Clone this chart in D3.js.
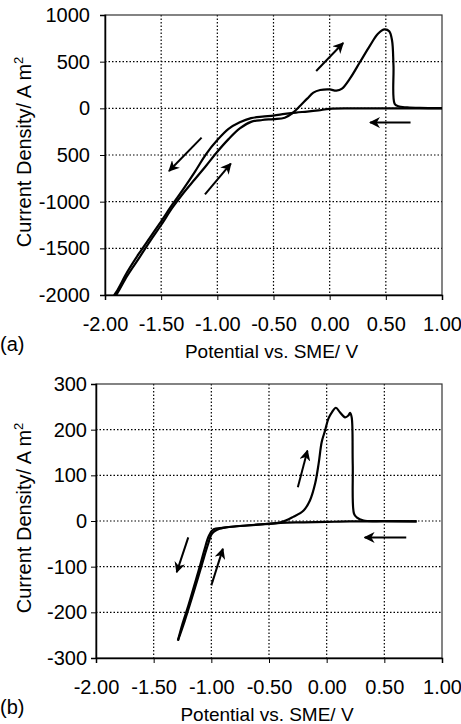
<!DOCTYPE html>
<html>
<head>
<meta charset="utf-8">
<script src="https://cdn.jsdelivr.net/npm/d3@7"></script>
<style>
  body { margin: 0; background: #fff; }
  text { font-family: Arial, "Liberation Sans", sans-serif; fill: #000; }
</style>
</head>
<body>
<div id="container"></div>
<script>
const width = 461, height = 724;

/* DATA - panel (a) */
// cathodic sweep, 1.00 V down to -1.93 V  [potential V, current A m-2]
const aCathodic = [
  [1.00, 0], [0.60, 0], [0.20, -1], [0.00, -5], [-0.10, -22], [-0.20, -35],
  [-0.30, -45], [-0.40, -60], [-0.50, -78], [-0.60, -88], [-0.70, -105],
  [-0.80, -150], [-0.90, -220], [-1.00, -340], [-1.10, -490], [-1.20, -680],
  [-1.30, -860], [-1.40, -1030], [-1.50, -1210], [-1.60, -1385], [-1.70, -1560],
  [-1.80, -1750], [-1.90, -1970], [-1.94, -2040]
];
// anodic return sweep
const aAnodic = [
  [-1.92, -2040], [-1.88, -1960], [-1.80, -1790], [-1.70, -1610], [-1.60, -1425],
  [-1.50, -1250], [-1.40, -1065], [-1.30, -905], [-1.20, -760], [-1.10, -615],
  [-1.00, -465], [-0.90, -330], [-0.80, -215], [-0.70, -145], [-0.60, -125],
  [-0.50, -115], [-0.40, -100], [-0.33, -50], [-0.26, 30], [-0.20, 104],
  [-0.145, 168], [-0.085, 196], [0.00, 203], [0.06, 189], [0.11, 211],
  [0.18, 318], [0.27, 496], [0.36, 675], [0.43, 800], [0.49, 846], [0.53, 825],
  [0.555, 730], [0.568, 460], [0.578, 50], [0.61, 22], [0.69, 10], [0.80, 4], [1.00, 2]
];
// arrows [x1, y1, x2, y2] in data units, head at the second point
const aArrows = [
  [-0.12, 400, 0.12, 700],
  [0.72, -153, 0.36, -153],
  [-1.14, -314, -1.43, -671],
  [-1.11, -921, -0.88, -592]
];
const aXTicks = [-2, -1.5, -1, -0.5, 0, 0.5, 1];
const aYTicks = [1000, 500, 0, -500, -1000, -1500, -2000];
const aYLabels = ["1000", "500", "0", "500", "-1000", "-1500", "-2000"];

/* DATA - panel (b) */
const bCathodic = [
  [0.78, -1], [0.50, -1], [0.20, -1], [0.00, -2], [-0.20, -3], [-0.40, -4],
  [-0.60, -8], [-0.80, -12], [-0.90, -15], [-0.95, -19], [-0.98, -24],
  [-1.00, -30], [-1.03, -52], [-1.07, -85], [-1.12, -128], [-1.18, -178],
  [-1.23, -218], [-1.29, -262]
];
const bAnodic = [
  [-1.29, -262], [-1.25, -225], [-1.20, -186], [-1.15, -143], [-1.10, -100],
  [-1.06, -63], [-1.02, -32], [-0.98, -18], [-0.90, -15], [-0.80, -12],
  [-0.60, -8], [-0.40, -3], [-0.29, 9], [-0.20, 23], [-0.145, 45], [-0.10, 82],
  [-0.07, 125], [-0.043, 173], [-0.014, 198], [0.015, 224], [0.045, 238],
  [0.08, 248], [0.115, 238], [0.16, 227], [0.188, 231], [0.203, 237],
  [0.217, 227], [0.226, 125], [0.237, 16], [0.26, 8], [0.32, 1], [0.50, 0], [0.78, -1]
];
const bArrows = [
  [-0.25, 74, -0.167, 154],
  [0.69, -36, 0.33, -36],
  [-1.20, -36, -1.30, -112],
  [-1.00, -141, -0.90, -61]
];
const bXTicks = [-2, -1.5, -1, -0.5, 0, 0.5, 1];
const bYTicks = [300, 200, 100, 0, -100, -200, -300];
const bYLabels = ["300", "200", "100", "0", "-100", "-200", "-300"];

const xLabels = ["-2.00", "-1.50", "-1.00", "-0.50", "0.00", "0.50", "1.00"];

const svg = d3.select("#container")
  .append("svg")
  .attr("width", width)
  .attr("height", height);

svg.append("defs").append("marker")
  .attr("id", "head")
  .attr("viewBox", "0 0 10 10")
  .attr("refX", 9)
  .attr("refY", 5)
  .attr("markerWidth", 5.5)
  .attr("markerHeight", 5.5)
  .attr("orient", "auto")
  .append("path")
  .attr("d", "M0,0 L10,5 L0,10 L3,5 Z")
  .attr("fill", "#000");

function panel(cfg) {
  const { left, right, top, bottom, yDomain, yTicks, yLabels, xTicks, curves, arrows, tag, id, pad } = cfg;

  const xScale = d3.scaleLinear().domain([-2, 1]).range([left, right]);
  const yScale = d3.scaleLinear().domain(yDomain).range([bottom, top]);

  const g = svg.append("g");

  g.append("clipPath").attr("id", id)
    .append("rect")
    .attr("x", left).attr("y", top)
    .attr("width", right - left).attr("height", bottom - top);

  // grid
  g.selectAll(".vgrid")
    .data(xTicks.slice(1, -1))
    .join("line")
    .attr("x1", d => xScale(d)).attr("x2", d => xScale(d))
    .attr("y1", top).attr("y2", bottom)
    .attr("stroke", "#000").attr("stroke-width", 1.2)
    .attr("stroke-dasharray", "1.5,2");

  g.selectAll(".hgrid")
    .data(yTicks.slice(1, -1))
    .join("line")
    .attr("x1", left).attr("x2", right)
    .attr("y1", d => yScale(d)).attr("y2", d => yScale(d))
    .attr("stroke", "#000").attr("stroke-width", 1.2)
    .attr("stroke-dasharray", "1.5,2");

  // frame
  g.append("rect")
    .attr("x", left).attr("y", top)
    .attr("width", right - left).attr("height", bottom - top)
    .attr("fill", "none").attr("stroke", "#333").attr("stroke-width", 1.2);

  // axes
  const xAxis = d3.axisBottom(xScale)
    .tickValues(xTicks)
    .tickSize(5)
    .tickFormat((d, i) => xLabels[i]);
  g.append("g")
    .attr("transform", `translate(0, ${bottom})`)
    .call(xAxis)
    .call(a => a.select(".domain").attr("stroke-width", 1.5))
    .call(a => a.selectAll("text")
      .attr("font-size", 20)
      .attr("font-family", "Arial, 'Liberation Sans', sans-serif")
      .attr("y", 36)
      .attr("dy", null));

  const yAxis = d3.axisLeft(yScale)
    .tickValues(yTicks)
    .tickSize(5)
    .tickPadding(pad)
    .tickFormat((d, i) => yLabels[i]);
  g.append("g")
    .attr("transform", `translate(${left}, 0)`)
    .call(yAxis)
    .call(a => a.select(".domain").attr("stroke-width", 1.5))
    .call(a => a.selectAll("text")
      .attr("font-size", 20)
      .attr("font-family", "Arial, 'Liberation Sans', sans-serif"));

  // curves
  const line = d3.line()
    .x(d => xScale(d[0]))
    .y(d => yScale(d[1]))
    .curve(d3.curveCatmullRom.alpha(0.5));

  g.append("g").attr("clip-path", `url(#${id})`)
    .selectAll("path")
    .data(curves)
    .join("path")
    .attr("d", line)
    .attr("fill", "none")
    .attr("stroke", "#000")
    .attr("stroke-width", 2.2)
    .attr("stroke-linejoin", "round");

  // arrows
  g.selectAll(".arrow")
    .data(arrows)
    .join("line")
    .attr("x1", d => xScale(d[0])).attr("y1", d => yScale(d[1]))
    .attr("x2", d => xScale(d[2])).attr("y2", d => yScale(d[3]))
    .attr("stroke", "#000").attr("stroke-width", 2)
    .attr("marker-end", "url(#head)");

  // titles
  g.append("text")
    .attr("x", (left + right) / 2 - 2)
    .attr("y", bottom + 63)
    .attr("text-anchor", "middle")
    .attr("font-size", 19)
    .text("Potential vs. SME/ V");

  const yt = g.append("text")
    .attr("transform", `translate(31, ${(top + bottom) / 2 - 3}) rotate(-90)`)
    .attr("text-anchor", "middle")
    .attr("font-size", 20)
    .text("Current Density/ A m");
  yt.append("tspan")
    .attr("dy", -8)
    .attr("font-size", 13)
    .text("2");

  g.append("text")
    .attr("x", 0)
    .attr("y", bottom + 56)
    .attr("font-size", 20)
    .text(tag);
}

panel({
  id: "clipA", left: 105, right: 442, top: 15, bottom: 295, pad: 10,
  yDomain: [-2000, 1000], yTicks: aYTicks, yLabels: aYLabels, xTicks: aXTicks,
  curves: [aCathodic, aAnodic], arrows: aArrows, tag: "(a)"
});

panel({
  id: "clipB", left: 96, right: 442, top: 384, bottom: 658, pad: 4,
  yDomain: [-300, 300], yTicks: bYTicks, yLabels: bYLabels, xTicks: bXTicks,
  curves: [bCathodic, bAnodic], arrows: bArrows, tag: "(b)"
});
</script>
</body>
</html>
